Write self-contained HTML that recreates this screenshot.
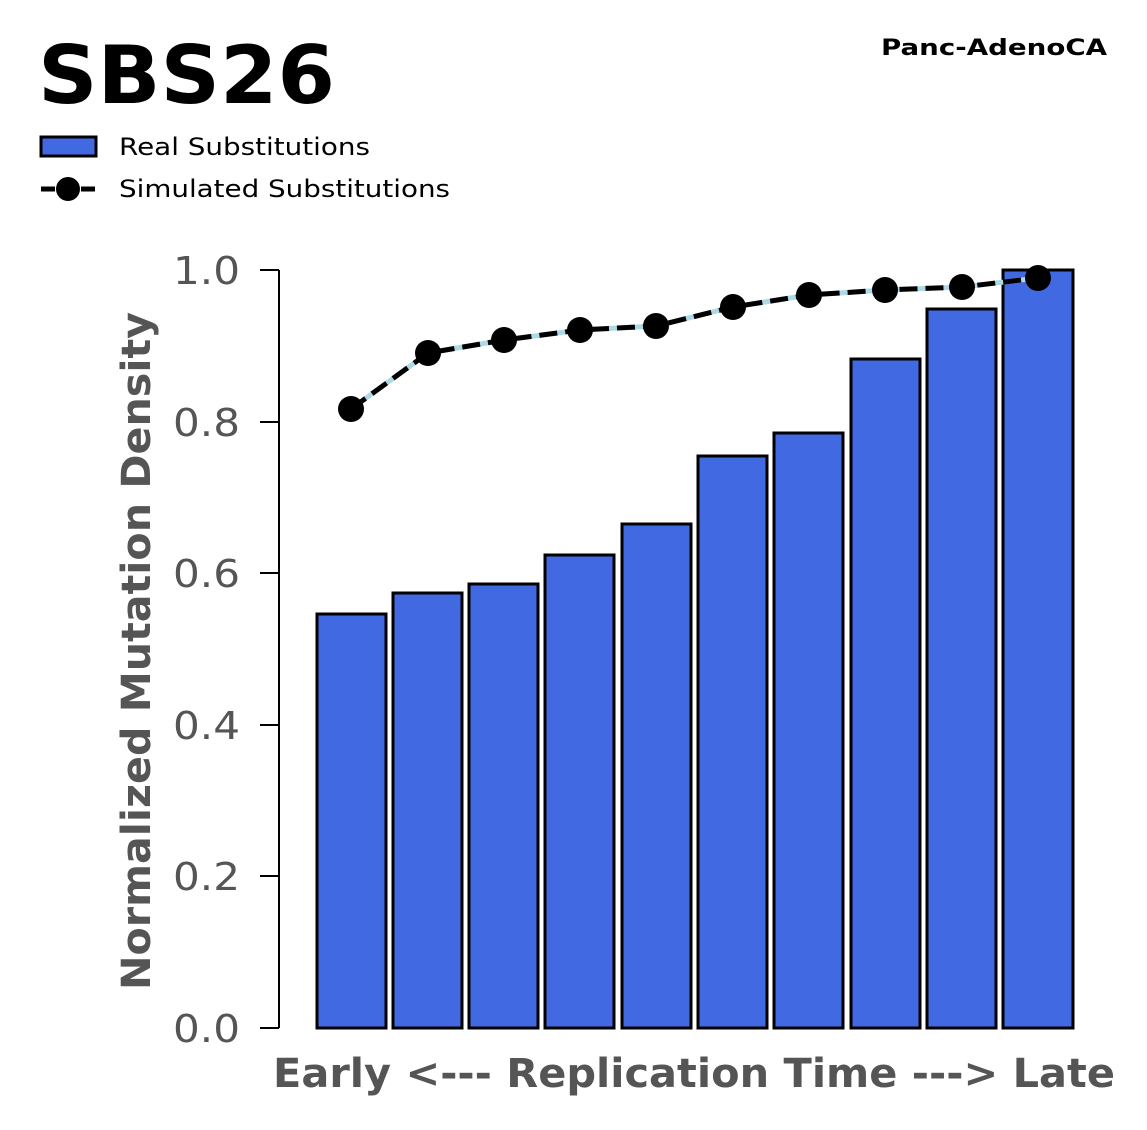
<!DOCTYPE html>
<html><head><style>
body{margin:0;background:#fff;}
svg text{font-family:"DejaVu Sans","Liberation Sans",sans-serif;}
</style></head><body>
<svg width="1147" height="1125" viewBox="0 0 1147 1125" xmlns="http://www.w3.org/2000/svg">
<text x="38" y="103" font-size="80" font-weight="bold" textLength="297" lengthAdjust="spacingAndGlyphs">SBS26</text>
<text x="881" y="55" font-size="22" font-weight="bold" textLength="226" lengthAdjust="spacingAndGlyphs">Panc-AdenoCA</text>
<rect x="41" y="137" width="55" height="19" fill="#4169e1" stroke="#000" stroke-width="3"/>
<text x="119" y="155" font-size="24" textLength="251" lengthAdjust="spacingAndGlyphs">Real Substitutions</text>
<line x1="41" y1="189" x2="96" y2="189" stroke="#000" stroke-width="5" stroke-dasharray="14,6"/>
<circle cx="68" cy="189" r="12" fill="#000"/>
<text x="119" y="197" font-size="24" textLength="331" lengthAdjust="spacingAndGlyphs">Simulated Substitutions</text>
<g stroke="#000" stroke-width="2">
<line x1="279" y1="270" x2="279" y2="1028"/>
<line x1="260" y1="1028" x2="279" y2="1028"/>
<line x1="260" y1="876" x2="279" y2="876"/>
<line x1="260" y1="725" x2="279" y2="725"/>
<line x1="260" y1="573" x2="279" y2="573"/>
<line x1="260" y1="422" x2="279" y2="422"/>
<line x1="260" y1="270" x2="279" y2="270"/>
</g>
<g font-size="38" fill="#555">
<text x="173" y="1042" textLength="67" lengthAdjust="spacingAndGlyphs">0.0</text>
<text x="173" y="890" textLength="67" lengthAdjust="spacingAndGlyphs">0.2</text>
<text x="173" y="739" textLength="67" lengthAdjust="spacingAndGlyphs">0.4</text>
<text x="173" y="587" textLength="67" lengthAdjust="spacingAndGlyphs">0.6</text>
<text x="173" y="436" textLength="67" lengthAdjust="spacingAndGlyphs">0.8</text>
<text x="173" y="284" textLength="67" lengthAdjust="spacingAndGlyphs">1.0</text>
</g>
<text transform="translate(150,990) rotate(-90)" font-size="40" font-weight="bold" fill="#555" textLength="678" lengthAdjust="spacingAndGlyphs">Normalized Mutation Density</text>
<text x="273" y="1087" font-size="40" font-weight="bold" fill="#555" textLength="842" lengthAdjust="spacingAndGlyphs">Early &lt;--- Replication Time ---&gt; Late</text>
<g fill="#4169e1" stroke="#000" stroke-width="3">
<rect x="317" y="614" width="69" height="414"/>
<rect x="393" y="593" width="69" height="435"/>
<rect x="469" y="584" width="69" height="444"/>
<rect x="545" y="555" width="69" height="473"/>
<rect x="622" y="524" width="69" height="504"/>
<rect x="698" y="456" width="69" height="572"/>
<rect x="774" y="433" width="69" height="595"/>
<rect x="851" y="359" width="69" height="669"/>
<rect x="927" y="309" width="69" height="719"/>
<rect x="1003" y="270" width="70" height="758"/>
</g>
<polyline points="351,409 428,353 504,340 580,330 656,326 733,307 809,295 885,290 962,287 1038,278" fill="none" stroke="#add8e6" stroke-width="5"/>
<polyline points="351,409 428,353 504,340 580,330 656,326 733,307 809,295 885,290 962,287 1038,278" fill="none" stroke="#000" stroke-width="5" stroke-dasharray="18,8"/>
<g fill="#000">
<circle cx="351" cy="409" r="13"/><circle cx="428" cy="353" r="13"/><circle cx="504" cy="340" r="13"/>
<circle cx="580" cy="330" r="13"/><circle cx="656" cy="326" r="13"/><circle cx="733" cy="307" r="13"/>
<circle cx="809" cy="295" r="13"/><circle cx="885" cy="290" r="13"/><circle cx="962" cy="287" r="13"/>
<circle cx="1038" cy="278" r="13"/>
</g>
</svg>
</body></html>
